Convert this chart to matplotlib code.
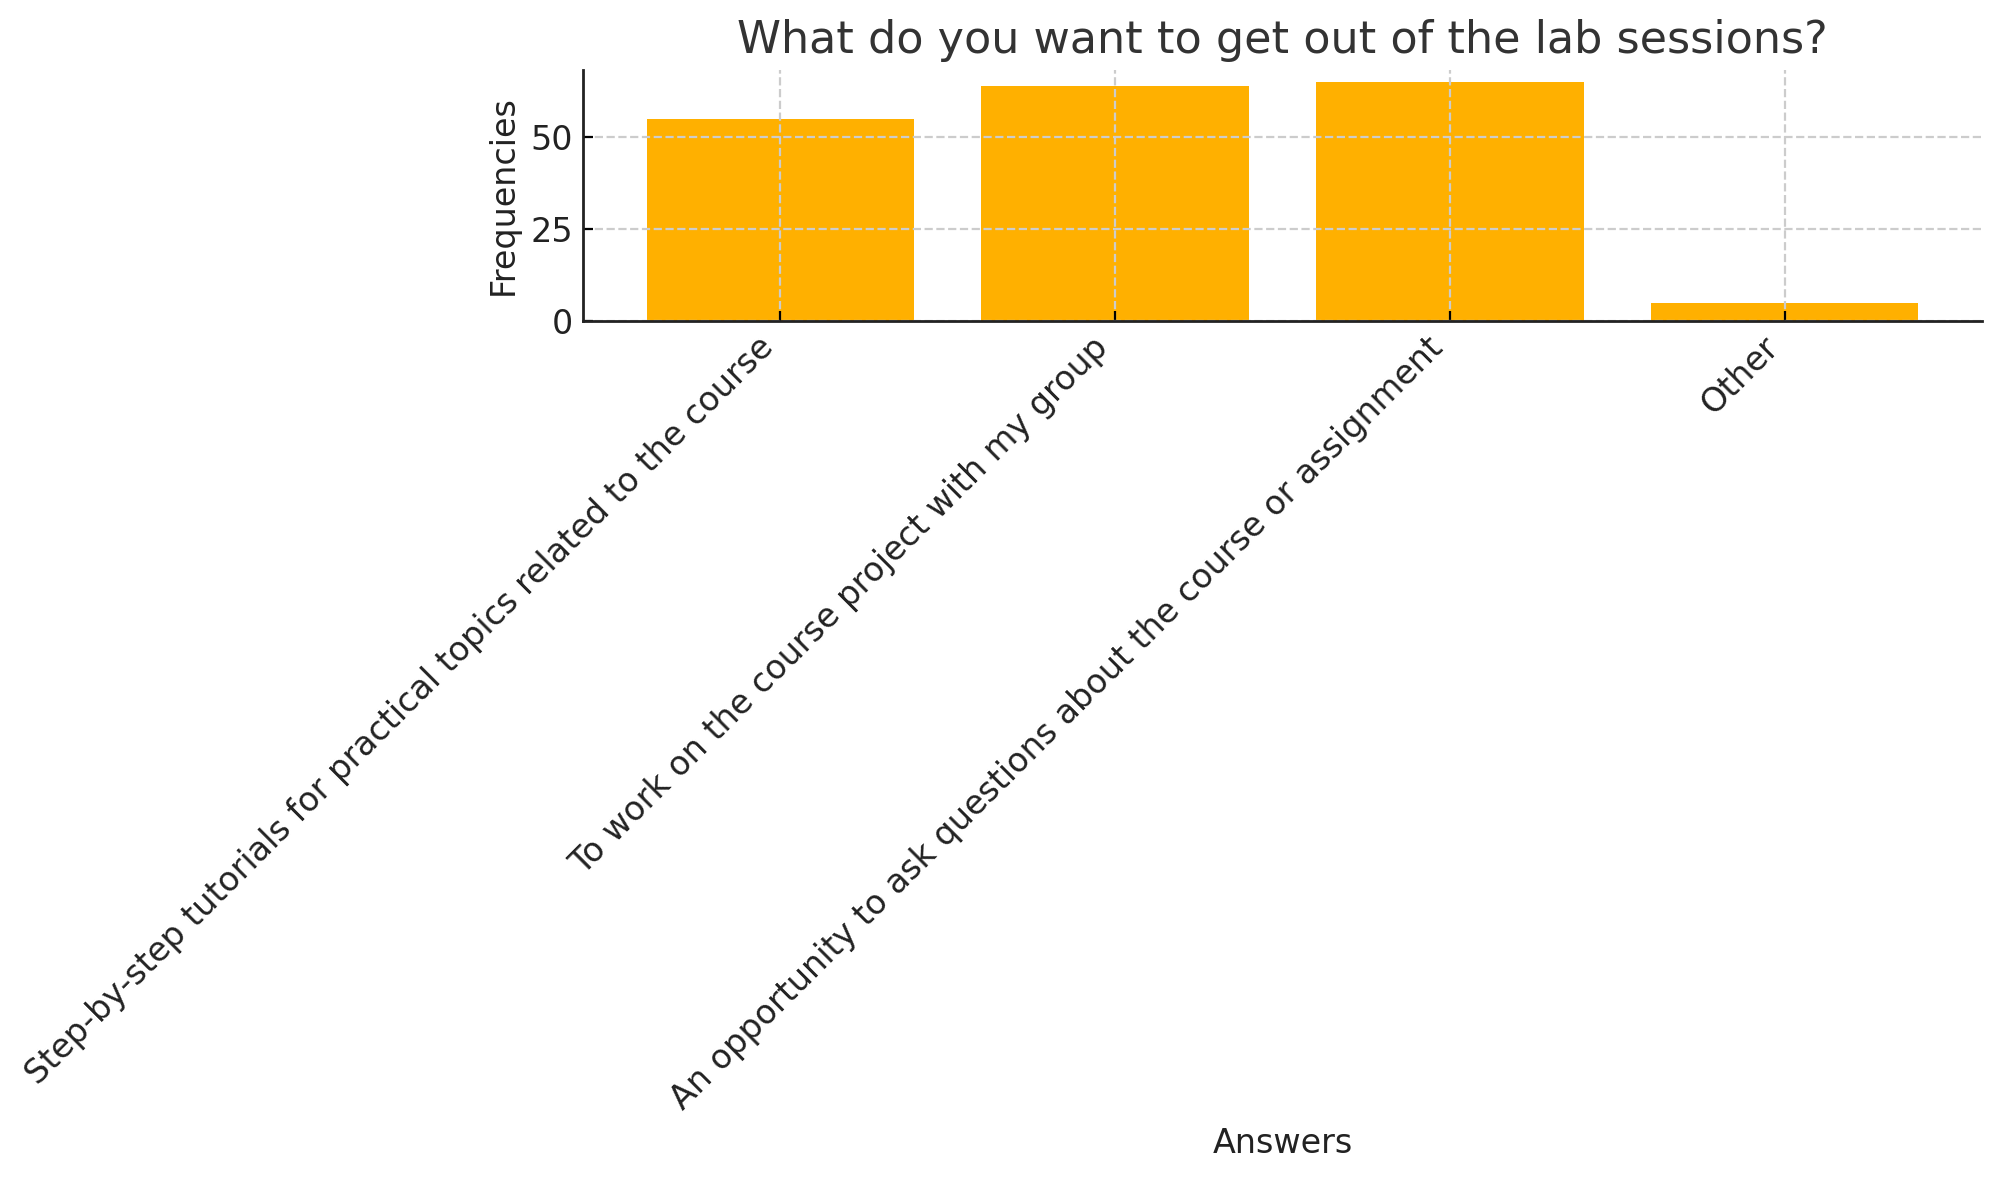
import matplotlib
matplotlib.use("Agg")
import matplotlib.pyplot as plt

categories = [
    "Step-by-step tutorials for practical topics related to the course",
    "To work on the course project with my group",
    "An opportunity to ask questions about the course or assignment",
    "Other",
]
frequencies = [55, 64, 65, 5]
yticks = [0, 25, 50]

fig = plt.figure(figsize=(10.005, 5.9), dpi=200)
ax = fig.add_axes([583/2001, 1-321/1180, (1982-583)/2001, (321-70)/1180])
ax.bar(range(len(categories)), frequencies, color="#FFB000", width=0.8)
ax.set_xticks(range(len(categories)))
ax.set_xticklabels(categories, rotation=45, ha="right", fontsize=12, color="#222222")
ax.set_yticks(yticks)
ax.tick_params(axis="both", direction="in")
ax.tick_params(axis="y", labelsize=12, labelcolor="#222222")
ax.set_axisbelow(False)
ax.grid(True, linestyle="--", color="#cccccc", linewidth=0.8)
ax.spines["top"].set_visible(False)
ax.spines["right"].set_visible(False)
for side in ("left", "bottom"):
    ax.spines[side].set_zorder(4)
    ax.spines[side].set_linewidth(1.0)
    ax.spines[side].set_color("#222222")
ax.set_title("What do you want to get out of the lab sessions?", fontsize=16, color="#333333")
ax.set_ylabel("Frequencies", fontsize=12, color="#222222")
ax.set_xlabel("Answers", fontsize=12, color="#222222")
fig.savefig("out.png", dpi=200)
